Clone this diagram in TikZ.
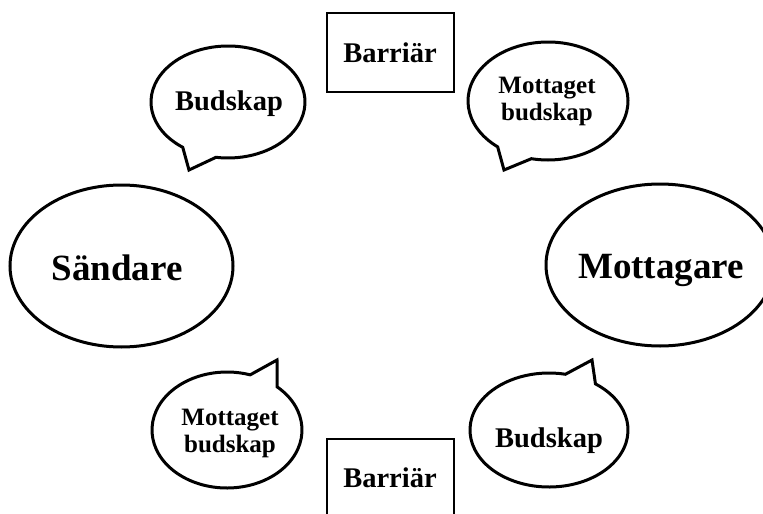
\documentclass[tikz,border=0pt]{standalone}
\usepackage{fontspec}
\setmainfont{Liberation Serif}
\usetikzlibrary{shapes.geometric}
\tikzset{
  bigell/.style={draw, line width=3pt, ellipse, inner sep=0pt},
  bubble/.style={draw, line width=3pt, line join=miter, fill=white},
  barbox/.style={draw, line width=2pt, fill=white},
  bigtxt/.style={font=\bfseries\fontsize{37}{40}\selectfont, inner sep=0pt, anchor=base},
  midtxt/.style={font=\bfseries\fontsize{28.5}{30}\selectfont, inner sep=0pt, anchor=base},
  twotxt/.style={font=\bfseries\fontsize{25}{27}\selectfont, inner sep=0pt, align=center},
}
\begin{document}
\begin{tikzpicture}[x=1pt,y=-1pt]
\useasboundingbox (0,0) rectangle (763,514);
% big ellipses
\node[bigell, minimum width=223pt, minimum height=162pt] (sender) at (121.5,266) {};
\node[bigell, minimum width=228pt, minimum height=162pt] (receiver) at (660,265) {};
\node[bigtxt] (sendertxt) at (117,280) {Sändare};
\node[bigtxt] (receivertxt) at (661,278) {Mottagare};
% barriers
\draw[barbox] (327,13) rectangle (454,92);
\node[midtxt] (bartop) at (390,62) {Barriär};
\draw[barbox] (327,439) rectangle (454,530);
\node[midtxt] (barbot) at (390,487) {Barriär};
% speech bubbles
\draw[bubble] (228,102) ++(126:77 and 56) arc[start angle=126, end angle=459, x radius=77, y radius=56] -- (189,170) -- cycle;
\node[midtxt] (msgtl) at (229,110) {Budskap};
\draw[bubble] (548,101) ++(129:80 and 59) arc[start angle=129, end angle=462, x radius=80, y radius=59] -- (504,170) -- cycle;
\node[twotxt] (rcvtr) at (547,101) {Mottaget\\budskap};
\draw[bubble] (227,430) ++(312:75 and 58) arc[start angle=312, end angle=648, x radius=75, y radius=58] -- (277,360) -- cycle;
\node[twotxt] (rcvbl) at (230,433) {Mottaget\\budskap};
\draw[bubble] (549,430) ++(306:79 and 57) arc[start angle=306, end angle=642, x radius=79, y radius=57] -- (592,360) -- cycle;
\node[midtxt] (msgbr) at (549,447) {Budskap};
\end{tikzpicture}
\end{document}
